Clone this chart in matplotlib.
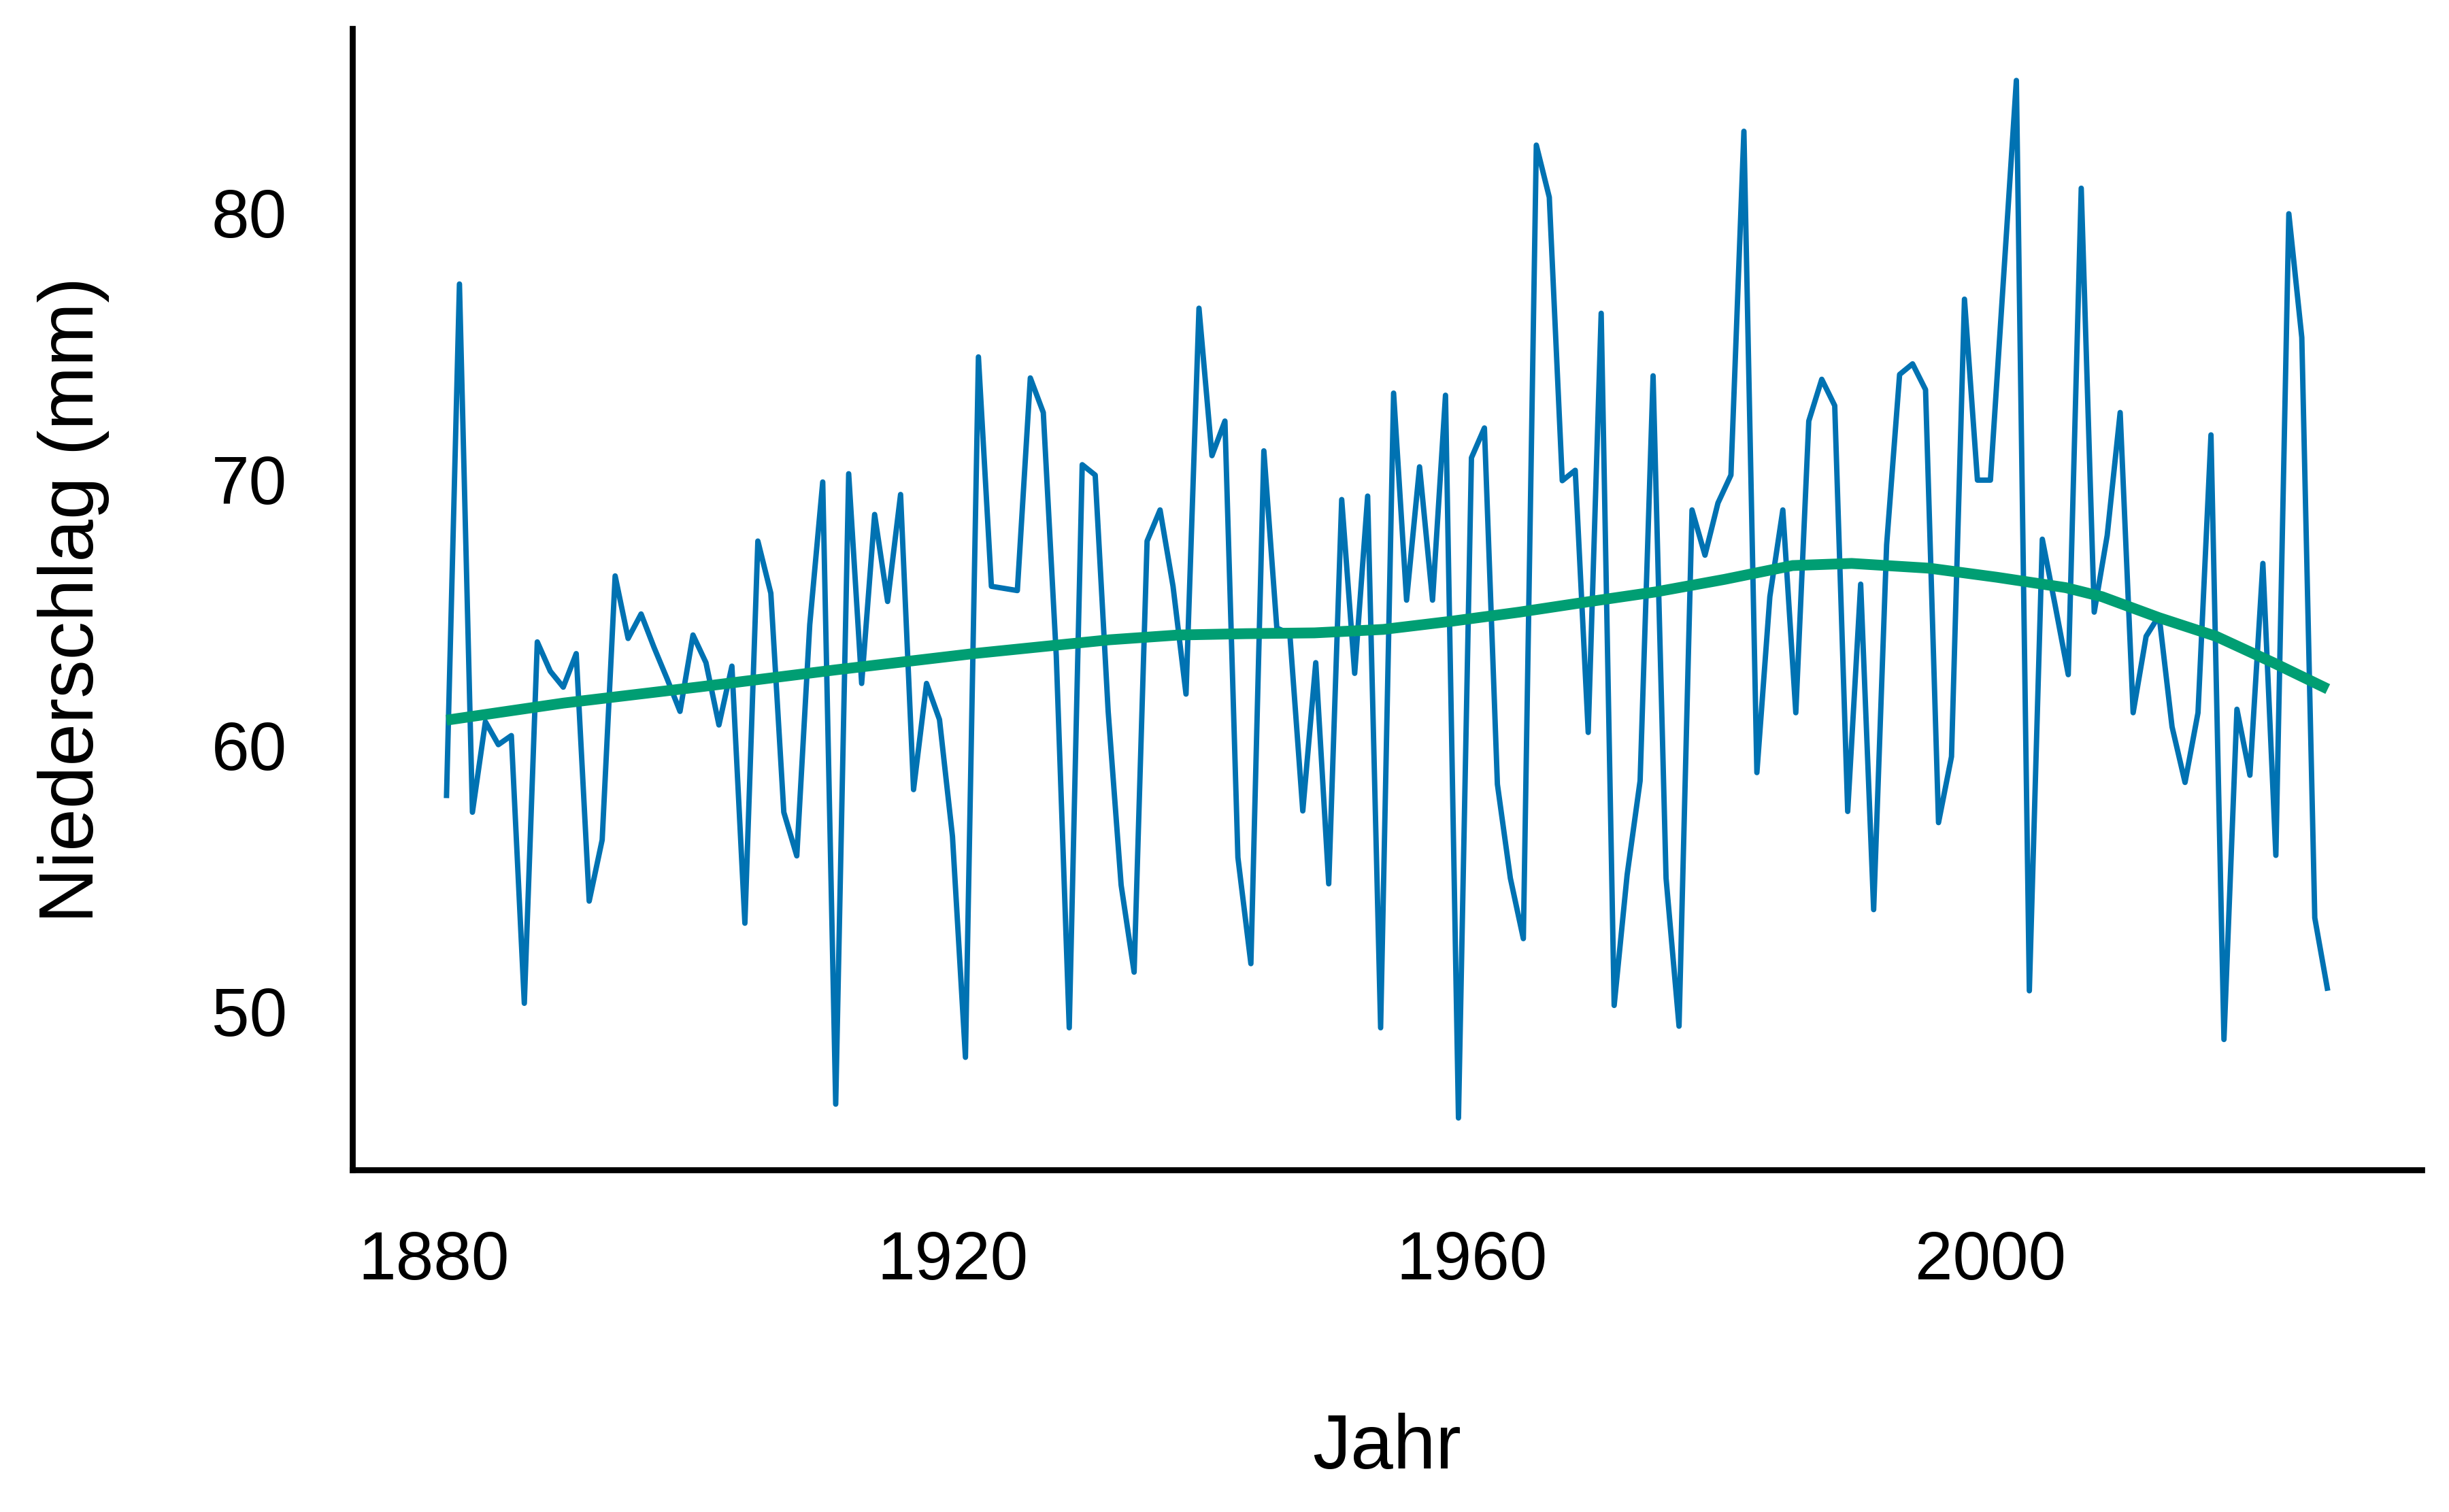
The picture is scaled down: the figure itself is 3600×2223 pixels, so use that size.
import matplotlib
matplotlib.use("Agg")
import matplotlib.pyplot as plt

plt.rcParams['font.family'] = ['Liberation Sans', 'DejaVu Sans']

# jährlicher Niederschlag
jahre = list(range(1881, 2027))
niederschlag = [
    57.98, 77.30, 57.45, 60.85, 59.99, 60.33, 50.27, 63.85, 62.75, 62.15,
    63.41, 54.11, 56.41, 66.33, 63.98, 64.90, 63.64, 62.47, 61.24, 64.11,
    63.07, 60.73, 62.94, 53.28, 67.64, 65.68, 57.45, 55.81, 64.50, 69.86,
    46.48, 70.17, 62.29, 68.64, 65.37, 69.39, 58.30, 62.29, 60.93, 56.54,
    48.24, 74.56, 65.94, 65.86, 65.78, 73.77, 72.47, 63.33, 49.35, 70.51,
    70.12, 61.24, 54.71, 51.44, 67.64, 68.81, 65.94, 61.89, 76.39, 70.85,
    72.15, 55.75, 51.76, 71.03, 64.37, 64.16, 57.50, 63.07, 54.76, 69.20,
    62.67, 69.33, 49.35, 73.20, 65.42, 70.43, 65.42, 73.12, 45.96, 70.77,
    71.89, 58.50, 54.97, 52.70, 82.52, 80.56, 69.91, 70.30, 60.45, 76.20,
    50.19, 55.10, 58.63, 73.85, 54.97, 49.41, 68.81, 67.11, 69.07, 70.12,
    83.04, 58.94, 65.55, 68.81, 61.19, 72.15, 73.72, 72.73, 57.48, 66.02,
    53.79, 67.50, 73.90, 74.30, 73.33, 57.06, 59.54, 76.73, 69.93, 69.93,
    77.46, 84.95, 50.74, 67.71, 65.20, 62.62, 80.90, 64.97, 67.85, 72.47,
    61.19, 64.06, 64.84, 60.66, 58.57, 61.19, 71.63, 48.91, 61.32, 58.84,
    66.80, 55.83, 79.94, 75.29, 53.48, 50.74,
]

# geglätteter Trend (grüne Kurve)
trend_jahre = [1881, 1890, 1900.5, 1911, 1921.6, 1932.1, 1937.4, 1942.6,
               1947.9, 1953.2, 1958.5, 1963.7, 1969, 1974.2, 1979.5, 1984.75,
               1989.3, 1995.3, 2000.5, 2005.8, 2008.6, 2013, 2017.4, 2021.8,
               2026]
trend = [60.91, 61.55, 62.16, 62.80, 63.41, 63.93, 64.11, 64.16,
         64.19, 64.32, 64.63, 64.97, 65.36, 65.73, 66.20, 66.72,
         66.80, 66.62, 66.28, 65.89, 65.55, 64.76, 64.06, 63.07,
         62.08]

fig = plt.figure(figsize=(12, 7.413), dpi=300)
ax = fig.add_axes([0.1439, 0.2262, 0.845, 0.7545])

ax.plot(jahre, niederschlag, color='#0072B2', linewidth=1.9,
        solid_capstyle='butt', solid_joinstyle='round')
ax.plot(trend_jahre, trend, color='#009E73', linewidth=3.8,
        solid_capstyle='butt', solid_joinstyle='round')

ax.set_xticks([1880, 1920, 1960, 2000])
ax.set_yticks([50, 60, 70, 80])
ax.tick_params(length=0, labelsize=24, colors='black', pad=21)
ax.tick_params(axis='y', pad=23)

for s in ['top', 'right']:
    ax.spines[s].set_visible(False)
for s in ['left', 'bottom']:
    ax.spines[s].set_linewidth(2.1)
    ax.spines[s].set_color('black')
    ax.spines[s].set_capstyle('projecting')

ax.set_xlabel('Jahr', fontsize=27, labelpad=42)
ax.set_ylabel('Niederschlag (mm)', fontsize=27, labelpad=36)

fig.savefig('out.png', dpi=300)
